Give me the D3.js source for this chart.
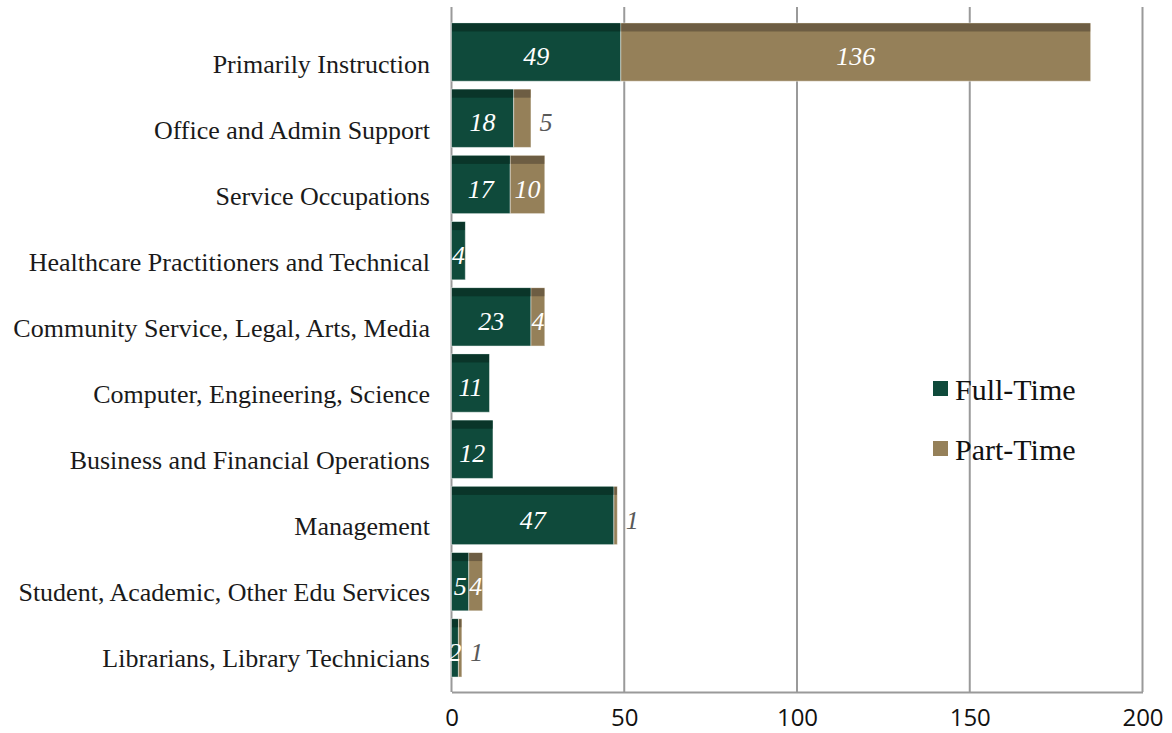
<!DOCTYPE html>
<html>
<head>
<meta charset="utf-8">
<script src="https://cdn.jsdelivr.net/npm/d3@7"></script>
<style>
  body { margin: 0; background: #fff; }
  text { font-family: "Liberation Serif", "DejaVu Serif", serif; }
</style>
</head>
<body>
<script>
// chart values
var categories = ["Primarily Instruction", "Office and Admin Support", "Service Occupations",
  "Healthcare Practitioners and Technical", "Community Service, Legal, Arts, Media",
  "Computer, Engineering, Science", "Business and Financial Operations", "Management",
  "Student, Academic, Other Edu Services", "Librarians, Library Technicians"]
var fullTime = [49, 18, 17, 4, 23, 11, 12, 47, 5, 2]
var partTime = [136, 5, 10, 0, 4, 0, 0, 1, 4, 1]
var seriesNames = ["Full-Time", "Part-Time"]
var xTicks = [0, 50, 100, 150, 200]
// part-time labels that sit past the bar end
var outsideLabels = ["Office and Admin Support", "Management", "Librarians, Library Technicians"]

var width = 1172, height = 733
var colors = ["#0f4a3b", "#958059"]
var topColors = ["#0a3529", "#6d5d43"]

var svg = d3.select("body").append("svg")
    .attr("width", width)
    .attr("height", height)

var x = d3.scaleLinear().domain([0, 200]).range([451.5, 1142.5])

// bars sit a bit above their category label (3d style top face)
var yBar = d3.scaleBand().domain(categories).range([19, 681]).paddingInner(0.12).paddingOuter(0.06)
var yLab = d3.scaleBand().domain(categories).range([31, 691])

var plotTop = 7, plotBottom = 692

// gridlines
svg.append("g").selectAll("line")
    .data(xTicks)
    .enter().append("line")
    .attr("x1", d => x(d)).attr("x2", d => x(d))
    .attr("y1", plotTop).attr("y2", plotBottom)
    .attr("stroke", "#9a9a9a")
    .attr("stroke-width", 2)

// bottom axis
var xAxis = d3.axisBottom(x).tickValues(xTicks).tickSize(0).tickPadding(17)
var gx = svg.append("g")
    .attr("transform", "translate(0," + plotBottom + ")")
    .call(xAxis)
gx.select(".domain").attr("stroke", "#9a9a9a").attr("stroke-width", 2)
gx.selectAll("text")
    .attr("font-size", 24)
    .attr("fill", "#111")
    .style("font-family", "'Open Sans', 'DejaVu Sans', sans-serif")

// category labels
svg.append("g").selectAll("text")
    .data(categories)
    .enter().append("text")
    .attr("x", 430)
    .attr("y", d => yLab(d) + yLab.bandwidth() / 2)
    .attr("dy", "0.35em")
    .attr("text-anchor", "end")
    .attr("font-size", 26)
    .attr("fill", "#1a1a1a")
    .text(d => d)

var rows = categories.map(function(c, i) {
    return { cat: c, vals: [fullTime[i], partTime[i]] }
})

var segs = []
rows.forEach(function(r) {
    var start = 0
    r.vals.forEach(function(v, s) {
        segs.push({ cat: r.cat, s: s, x0: start, x1: start + v, v: v })
        start += v
    })
})
segs = segs.filter(d => d.v > 0)

var isOut = d => d.s == 1 && outsideLabels.indexOf(d.cat) >= 0

var stripH = 8
var bars = svg.append("g")

bars.selectAll("rect.seg")
    .data(segs)
    .enter().append("rect")
    .attr("class", "seg")
    .attr("x", d => x(d.x0))
    .attr("width", d => x(d.x1) - x(d.x0))
    .attr("y", d => yBar(d.cat))
    .attr("height", yBar.bandwidth())
    .attr("fill", d => colors[d.s])
    .attr("stroke", "rgba(255,255,255,0.45)")
    .attr("stroke-width", 1)

bars.selectAll("rect.top")
    .data(segs)
    .enter().append("rect")
    .attr("class", "top")
    .attr("x", d => x(d.x0) + 0.5)
    .attr("width", d => Math.max(0, x(d.x1) - x(d.x0) - 1))
    .attr("y", d => yBar(d.cat) + 0.5)
    .attr("height", stripH)
    .attr("fill", d => topColors[d.s])

// value labels
svg.append("g").selectAll("text")
    .data(segs)
    .enter().append("text")
    .attr("x", d => isOut(d) ? x(d.x1) + 15 : (x(d.x0) + x(d.x1)) / 2)
    .attr("y", d => yBar(d.cat) + stripH + (yBar.bandwidth() - stripH) / 2)
    .attr("dy", "0.35em")
    .attr("text-anchor", "middle")
    .attr("font-size", 26)
    .attr("font-style", "italic")
    .attr("fill", d => isOut(d) ? "#595959" : "#fff")
    .text(d => d.v)

// legend
var legend = svg.append("g").selectAll("g")
    .data(seriesNames)
    .enter().append("g")
    .attr("transform", (d, i) => "translate(933," + (381 + i * 60) + ")")
legend.append("rect")
    .attr("width", 15).attr("height", 15)
    .attr("fill", (d, i) => colors[i])
legend.append("text")
    .attr("x", 22)
    .attr("y", 8)
    .attr("dy", "0.35em")
    .attr("font-size", 30)
    .attr("fill", "#111")
    .text(d => d)
</script>
</body>
</html>
